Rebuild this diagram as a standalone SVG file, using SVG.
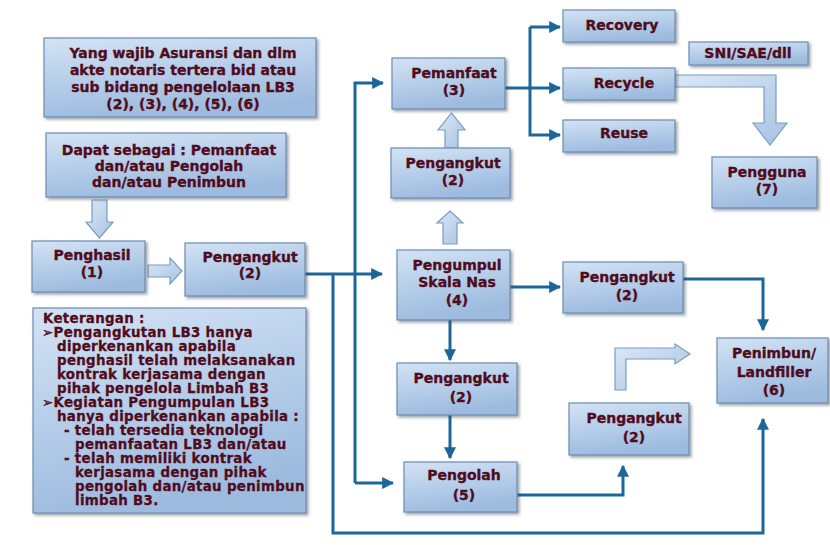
<svg xmlns="http://www.w3.org/2000/svg" width="830" height="545" viewBox="0 0 830 545">
<defs>
<linearGradient id="bg" x1="0" y1="0" x2="0.3" y2="1">
<stop offset="0" stop-color="#d3e3f4"/>
<stop offset="0.5" stop-color="#b7cfea"/>
<stop offset="1" stop-color="#9dbbdf"/>
</linearGradient>
<linearGradient id="ag" x1="0" y1="0" x2="1" y2="1">
<stop offset="0" stop-color="#dbe8f6"/>
<stop offset="1" stop-color="#a7c3e3"/>
</linearGradient>
<filter id="sh" x="-10%" y="-10%" width="125%" height="130%">
<feDropShadow dx="2" dy="2" stdDeviation="1.5" flood-color="#3a4a5a" flood-opacity="0.5"/>
</filter>
<marker id="ah" viewBox="0 0 10 10" refX="9" refY="5" markerWidth="4" markerHeight="4" orient="auto" markerUnits="strokeWidth">
<path d="M0,0 L10,5 L0,10 z" fill="#1c6699"/>
</marker>
</defs>
<style>
.box{fill:url(#bg);stroke:#6d8db3;stroke-width:1.2;filter:url(#sh)}
.t{font-family:"DejaVu Sans","Liberation Sans",sans-serif;font-weight:bold;font-size:14px;fill:#500c1c;stroke:#500c1c;stroke-width:0.35;text-anchor:middle}
.k{font-family:"DejaVu Sans","Liberation Sans",sans-serif;font-weight:bold;font-size:13.4px;letter-spacing:0.3px;fill:#500c1c;stroke:#500c1c;stroke-width:0.3}
.c{fill:none;stroke:#1c6699;stroke-width:3}
.ca{fill:none;stroke:#1c6699;stroke-width:3;marker-end:url(#ah)}
.ba{fill:url(#ag);stroke:#7a9cc4;stroke-width:1.2}
</style>
<rect width="830" height="545" fill="#ffffff"/>

<g id="connectors">
<polyline class="ca" points="305,274 382,274"/>
<polyline class="ca" points="333,274 333,533 763,533 763,419"/>
<polyline class="ca" points="355,483 355,83 383,83"/>
<polyline class="ca" points="355,483 393,483"/>
<polyline class="c" points="505,88 530,88"/>
<polyline class="ca" points="530,27 560,27"/>
<polyline class="ca" points="530,88 560,88"/>
<polyline class="ca" points="530,27 530,135 560,135"/>
<polyline class="ca" points="510,287 560,287"/>
<polyline class="ca" points="683,279 763,279 763,330"/>
<polyline class="ca" points="450,320 450,360"/>
<polyline class="ca" points="450,415 450,458"/>
<polyline class="ca" points="517,495 623,495 623,466"/>
<!-- block arrows -->
<path class="ba" d="M92,200 L107,200 L107,222 L113,222 L99.5,238 L86,222 L92,222 Z"/>
<path class="ba" d="M148,265 L170,265 L170,258 L182,271 L170,284 L170,277 L148,277 Z"/>
<path class="ba" d="M445,148 L445,130 L438,130 L451.5,113 L465,130 L458,130 L458,148 Z"/>
<path class="ba" d="M443,244 L443,223 L437,223 L450,211 L463,223 L457,223 L457,244 Z"/>
<path class="ba" d="M675,75 L776,75 L776,123 L787,123 L770,145 L753,123 L764,123 L764,87 L675,87 Z"/>
<path class="ba" d="M615,390 L615,348 L675,348 L675,344 L690,354 L675,364 L675,359 L626,359 L626,390 Z"/>
</g>

<g id="n-wajib"><rect class="box" x="44" y="38" width="272" height="79"/>
<text class="t" x="183" y="58">Yang wajib Asuransi dan dlm</text>
<text class="t" x="183" y="75">akte notaris tertera  bid atau</text>
<text class="t" x="183" y="92">sub bidang pengelolaan LB3</text>
<text class="t" x="183" y="109">(2), (3), (4), (5), (6)</text></g>

<g id="n-dapat"><rect class="box" x="46" y="133" width="240" height="64"/>
<text class="t" x="169" y="155">Dapat sebagai : Pemanfaat</text>
<text class="t" x="169" y="171">dan/atau Pengolah</text>
<text class="t" x="169" y="187">dan/atau Penimbun</text></g>

<g id="n-penghasil"><rect class="box" x="32" y="241" width="113" height="51"/>
<text class="t" x="92" y="260">Penghasil</text>
<text class="t" x="92" y="277">(1)</text></g>

<g id="n-pengangkut1"><rect class="box" x="185" y="243" width="120" height="53"/>
<text class="t" x="250" y="262">Pengangkut</text>
<text class="t" x="250" y="278">(2)</text></g>

<g id="n-keterangan"><rect class="box" x="33" y="308" width="273" height="205"/>
<text class="k" x="43" y="323">Keterangan :</text>
<text class="k" x="42" y="337">➢Pengangkutan LB3 hanya</text>
<text class="k" x="57" y="351">diperkenankan apabila</text>
<text class="k" x="57" y="365">penghasil telah melaksanakan</text>
<text class="k" x="57" y="379">kontrak kerjasama dengan</text>
<text class="k" x="57" y="393">pihak pengelola Limbah B3</text>
<text class="k" x="42" y="407">➢Kegiatan Pengumpulan LB3</text>
<text class="k" x="57" y="421">hanya diperkenankan apabila :</text>
<text class="k" x="64" y="435">-  telah tersedia teknologi</text>
<text class="k" x="75" y="449">pemanfaatan LB3 dan/atau</text>
<text class="k" x="64" y="463">-  telah memiliki kontrak</text>
<text class="k" x="75" y="477">kerjasama dengan pihak</text>
<text class="k" x="75" y="491">pengolah dan/atau penimbun</text>
<text class="k" x="75" y="505">limbah B3.</text></g>

<g id="n-pemanfaat"><rect class="box" x="392" y="58" width="113" height="51"/>
<text class="t" x="454" y="78">Pemanfaat</text>
<text class="t" x="454" y="95">(3)</text></g>

<g id="n-pengangkut2"><rect class="box" x="391" y="148" width="119" height="50"/>
<text class="t" x="453" y="168">Pengangkut</text>
<text class="t" x="453" y="185">(2)</text></g>

<g id="n-recovery"><rect class="box" x="563" y="10" width="112" height="32"/>
<text class="t" x="622" y="30">Recovery</text></g>

<g id="n-recycle"><rect class="box" x="563" y="68" width="112" height="32"/>
<text class="t" x="624" y="88">Recycle</text></g>

<g id="n-reuse"><rect class="box" x="563" y="120" width="112" height="32"/>
<text class="t" x="624" y="138">Reuse</text></g>

<g id="n-sni"><rect class="box" x="689" y="42" width="119" height="23"/>
<text class="t" x="748" y="58">SNI/SAE/dll</text></g>

<g id="n-pengguna"><rect class="box" x="712" y="157" width="105" height="51"/>
<text class="t" x="767" y="177">Pengguna</text>
<text class="t" x="767" y="194">(7)</text></g>

<g id="n-pengumpul"><rect class="box" x="397" y="250" width="113" height="70"/>
<text class="t" x="457" y="270">Pengumpul</text>
<text class="t" x="457" y="287">Skala Nas</text>
<text class="t" x="457" y="305">(4)</text></g>

<g id="n-pengangkut3"><rect class="box" x="563" y="262" width="120" height="51"/>
<text class="t" x="627" y="282">Pengangkut</text>
<text class="t" x="627" y="300">(2)</text></g>

<g id="n-penimbun"><rect class="box" x="717" y="338" width="111" height="65"/>
<text class="t" x="774" y="358">Penimbun/</text>
<text class="t" x="774" y="377">Landfiller</text>
<text class="t" x="774" y="395">(6)</text></g>

<g id="n-pengangkut4"><rect class="box" x="397" y="363" width="120" height="52"/>
<text class="t" x="461" y="383">Pengangkut</text>
<text class="t" x="461" y="402">(2)</text></g>

<g id="n-pengolah"><rect class="box" x="404" y="462" width="113" height="50"/>
<text class="t" x="464" y="480">Pengolah</text>
<text class="t" x="464" y="500">(5)</text></g>

<g id="n-pengangkut5"><rect class="box" x="569" y="403" width="120" height="52"/>
<text class="t" x="634" y="423">Pengangkut</text>
<text class="t" x="634" y="442">(2)</text></g>
</svg>
